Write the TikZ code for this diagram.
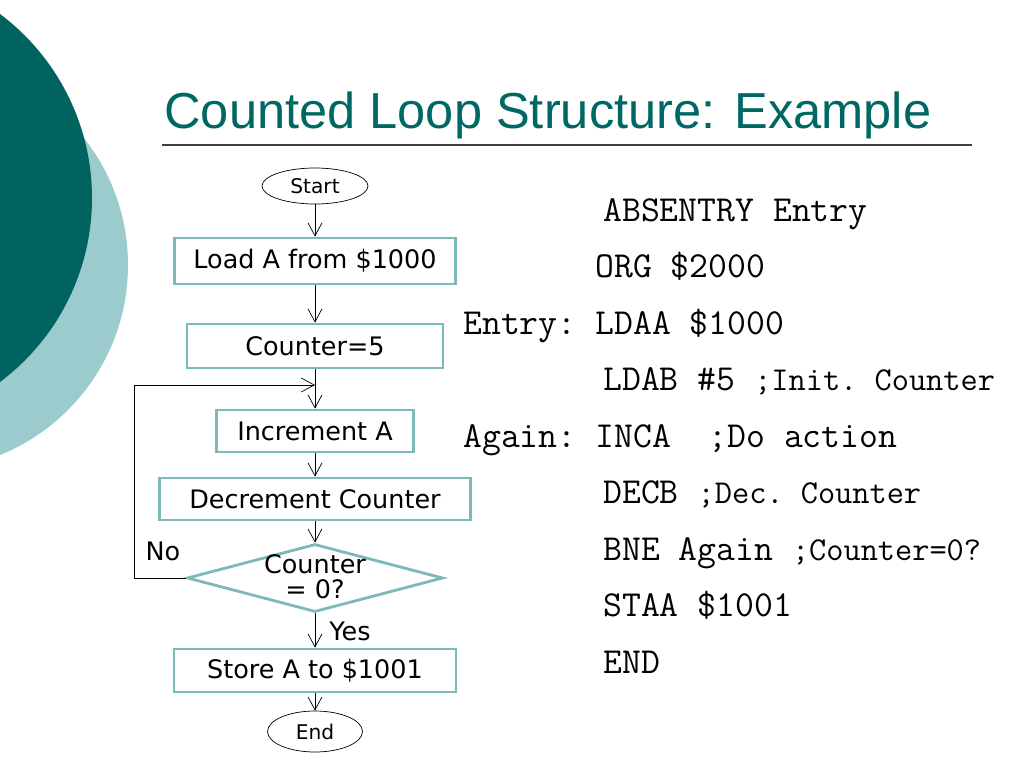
\documentclass[tikz,border=0pt]{standalone}
\usepackage{fontspec}
\setmainfont{DejaVu Sans}
\newfontfamily\titlefont{Liberation Sans}
\newcommand\codefont{\ttfamily\frenchspacing}
\newcommand\cmtfont{\fontsize{19}{21}\selectfont}
\usepackage{tikz}
\usepackage{xcolor}
\usetikzlibrary{
  arrows.meta, positioning, shapes.geometric,
}
\definecolor{tealdark}{RGB}{0,99,96}
\definecolor{teallight}{RGB}{155,203,205}
\definecolor{titlecol}{RGB}{0,104,98}
\definecolor{boxcol}{RGB}{125,185,185}
\definecolor{rulecol}{RGB}{64,64,64}
\tikzset{
  stepbox/.style={rectangle,draw=boxcol,line width=1.6pt,fill=white,inner sep=1pt,
    font=\fontsize{14.5}{17}\selectfont},
  termnode/.style={ellipse,draw,thin,fill=white,inner sep=0pt,font=\fontsize{11.5}{13}\selectfont},
  decision/.style={diamond,draw=boxcol,line width=1.6pt,fill=white,inner sep=0pt},
  flow/.style={-{Straight Barb[length=2.6mm,width=2.8mm]},thin,black},
  codeline/.style={anchor=base west,inner sep=0pt,font=\codefont\fontsize{20.85}{23}\selectfont},
  flowlabel/.style={inner sep=0pt,font=\fontsize{14.5}{17}\selectfont},
}

\begin{document}
\begin{tikzpicture}[x=0.02cm,y=-0.02cm]
  \useasboundingbox (0,0) rectangle (1024,768);
  % background circles
  \begin{scope}
    \clip (0,0) rectangle (1024,768);
    \fill[teallight] (-77,265) circle [radius=205];
    \fill[tealdark] (-138,198) circle [radius=230];
  \end{scope}
  \node[anchor=base west,inner sep=0pt,text=titlecol,font=\titlefont\fontsize{28.8}{34}\selectfont]
    (title) at (164,128) {Counted Loop Structure: Example};
  \draw[rulecol,line width=0.9pt] (162,145) -- (972,145);
  % flowchart
  \node[termnode,minimum width=2.12cm,minimum height=0.72cm] (start) at (315,186) {Start};
  \node[stepbox,minimum width=5.62cm,minimum height=0.92cm] (load) at (315,261) {Load A from \$1000};
  \node[stepbox,minimum width=5.12cm,minimum height=0.88cm] (count) at (315,346) {Counter=5};
  \node[stepbox,minimum width=3.94cm,minimum height=0.84cm] (inc) at (315,431) {Increment A};
  \node[stepbox,minimum width=6.22cm,minimum height=0.84cm] (dec) at (315,499) {Decrement Counter};
  \node[decision,minimum width=5.12cm,minimum height=1.36cm] (test) at (315,578) {};
  \node[align=center,inner sep=0pt,font=\fontsize{14.5}{14}\selectfont] (testtxt) at (315,577) {Counter\\= 0?};
  \node[stepbox,minimum width=5.64cm,minimum height=0.86cm] (store) at (315,670.5) {Store A to \$1001};
  \node[termnode,minimum width=1.9cm,minimum height=0.82cm] (stop) at (315,731.5) {End};
  \coordinate (join) at (315,385);
  \node[flowlabel] (no) at (163,551) {No};
  \node[flowlabel] (yes) at (350,631) {Yes};
  \draw[flow] (start) -- (load);
  \draw[flow] (load) -- (count);
  \draw[flow] (count) -- (inc);
  \draw[flow] (inc) -- (dec);
  \draw[flow] (dec) -- (test);
  \draw[flow] (test) -- (store);
  \draw[flow] (store) -- (stop);
  \draw[flow] (test.west) -- ++(-51,0) |- (join);
  % code listing
  \node[codeline] (l1) at (603,221) {ABSENTRY Entry};
  \node[codeline] (l2) at (595,277.5) {ORG \$2000};
  \node[codeline] (l3) at (463,334) {Entry: LDAA \$1000};
  \node[codeline] (l4) at (603,390.5) {LDAB \#5 {\cmtfont;Init. Counter}};
  \node[codeline] (l5) at (463,447) {Again: INCA~~;Do action};
  \node[codeline] (l6) at (603,503.5) {DECB {\cmtfont;Dec. Counter}};
  \node[codeline] (l7) at (603,560) {BNE Again {\cmtfont;Counter=0?}};
  \node[codeline] (l8) at (603,616.5) {STAA \$1001};
  \node[codeline] (l9) at (603,673) {END};
\end{tikzpicture}
\end{document}
